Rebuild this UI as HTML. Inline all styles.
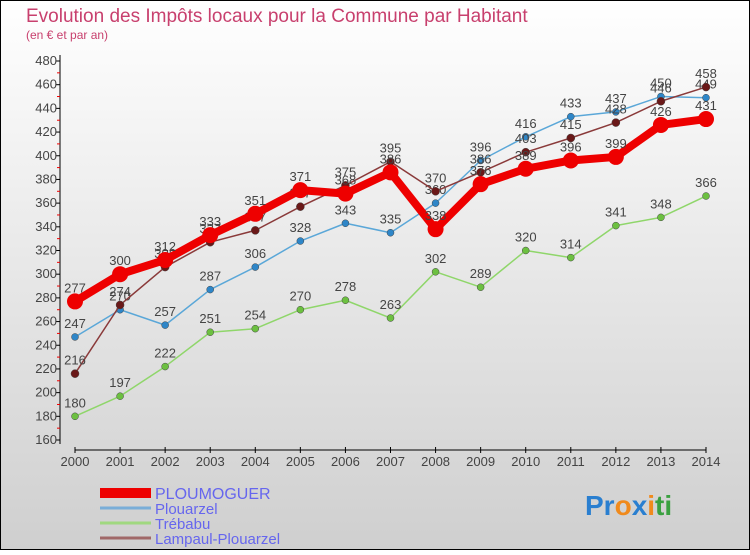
<!DOCTYPE html>
<html><head><meta charset="utf-8"><style>
body{margin:0;width:750px;height:550px;overflow:hidden;font-family:"Liberation Sans","DejaVu Sans",sans-serif}
</style></head><body>
<svg id="chart" width="750" height="550" xmlns="http://www.w3.org/2000/svg" font-family="Liberation Sans, DejaVu Sans, sans-serif">
<defs><linearGradient id="bg" x1="0" y1="0" x2="0" y2="1"><stop offset="0" stop-color="#ffffff"/><stop offset="1" stop-color="#cfcfcf"/></linearGradient></defs>
<rect x="0.5" y="0.5" width="749" height="549" fill="url(#bg)" stroke="#000"/>
<text x="26" y="22" font-size="19" fill="#c8406e">Evolution des Impôts locaux pour la Commune par Habitant</text>
<text x="26" y="39" font-size="12" fill="#c8406e">(en € et par an)</text>
<g id="axes"></g>
<g id="series"></g>
<g id="legend"></g>
<text x="585" y="515" font-size="28" font-weight="bold"><tspan fill="#2a7fd0">Pr</tspan><tspan fill="#f08a1c">o</tspan><tspan fill="#2a7fd0">x</tspan><tspan fill="#f08a1c">i</tspan><tspan fill="#3aa040">ti</tspan></text>
</svg>
<script>
const years=[2000,2001,2002,2003,2004,2005,2006,2007,2008,2009,2010,2011,2012,2013,2014];
const yTicks=[160,180,200,220,240,260,280,300,320,340,360,380,400,420,440,460,480];
const ploumoguer=[277,300,312,333,351,371,368,386,338,376,389,396,399,426,431];
const plouarzel=[247,270,257,287,306,328,343,335,360,396,416,433,437,450,449];
const trebabu=[180,197,222,251,254,270,278,263,302,289,320,314,341,348,366];
const lampaul=[216,274,306,327,337,357,375,395,370,386,403,415,428,446,458];
const seriesNames=["PLOUMOGUER","Plouarzel","Trébabu","Lampaul-Plouarzel"];

const NS="http://www.w3.org/2000/svg";
const X0=75,X1=706,Y0=440,Y1=61,VMIN=160,VMAX=480;
function xs(i){return X0+(X1-X0)*i/(years.length-1);}
function ys(v){return Y0-(v-VMIN)*(Y0-Y1)/(VMAX-VMIN);}
function mk(tag,attrs,parent){const e=document.createElementNS(NS,tag);for(const k in attrs)e.setAttribute(k,attrs[k]);parent.appendChild(e);return e;}
const axes=document.getElementById('axes');
let e=mk('line',{x1:60,y1:Y1-6,x2:60,y2:Y0+4,stroke:'#000'},axes);


yTicks.forEach((v,i)=>{
  const y=ys(v);
  mk('line',{x1:56,y1:y,x2:60,y2:y,stroke:'#000'},axes);
  if(i<yTicks.length-1){mk('line',{x1:57,y1:y-(Y0-Y1)/32,x2:60,y2:y-(Y0-Y1)/32,stroke:'#e00'},axes);}
  const t=mk('text',{x:57,y:y+4,'font-size':13,fill:'#444','text-anchor':'end'},axes);
  t.textContent=v;
  
  
});
e=mk('line',{x1:X0,y1:450,x2:X1,y2:450,stroke:'#000'},axes);


years.forEach((yr,i)=>{
  const x=xs(i);
  mk('line',{x1:x,y1:447,x2:x,y2:453,stroke:'#000'},axes);
  const t=mk('text',{x:x,y:466,'font-size':13,fill:'#444','text-anchor':'middle'},axes);
  t.textContent=yr;
  
  
});
const sg=document.getElementById('series');
const defs=[[trebabu,'#8fd66a','#6cc040',1.5,3.5,'trebabu'],[plouarzel,'#5aa7d8','#2e86c8',1.5,3.5,'plouarzel'],[lampaul,'#8a3a3a','#6a1818',1.5,4,'lampaul-plouarzel'],[ploumoguer,'#ee0000','#ee0000',8,8,'ploumoguer']];
defs.forEach(([d,lc,pc,w,r,n])=>{
  const g=mk('g',{},sg);
  
  
  const p=mk('polyline',{points:d.map((v,i)=>xs(i)+','+ys(v)).join(' '),fill:'none',stroke:lc,'stroke-width':w,'stroke-linejoin':'round'},g);
  
  
  d.forEach((v,i)=>{
    const c=mk('circle',{cx:xs(i),cy:ys(v),r:r,fill:pc,stroke:'#444','stroke-width':n==='ploumoguer'?0:0.5},g);
    
    
    const t=mk('text',{x:xs(i),y:ys(v)-9,'font-size':13,fill:'#444','text-anchor':'middle'},g);
    t.textContent=v;
    
    
  });
});
const lg=document.getElementById('legend');
const lcols=['#ee0000','#7aaed8','#a0d880','#a06868'];
const lw=[10,3,3,3];
const ly=[493,508,523,538];
seriesNames.forEach((nm,i)=>{
  const g=mk('g',{},lg);
  
  
  mk('line',{x1:100,y1:ly[i],x2:151,y2:ly[i],stroke:lcols[i],'stroke-width':lw[i]},g);
  const t=mk('text',{x:155,y:ly[i]+6,'font-size':i===0?16:15,fill:'#6666ee'},g);
  t.textContent=nm;
});
</script>
</body></html>
